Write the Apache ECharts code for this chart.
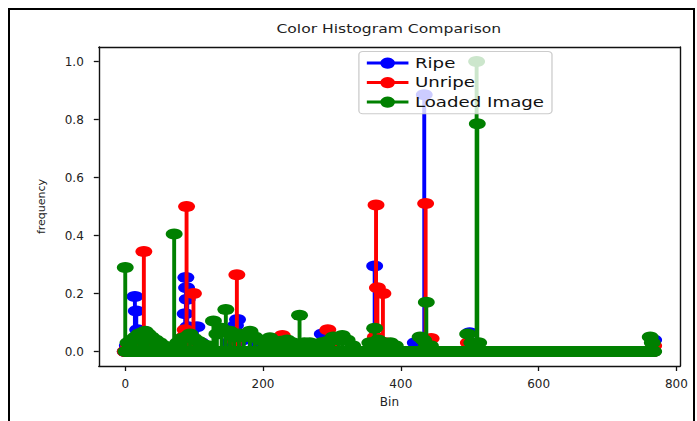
<!DOCTYPE html>
<html><head><meta charset="utf-8">
<script src="https://cdn.jsdelivr.net/npm/echarts@6/dist/echarts.min.js"></script>
<style>
html,body{margin:0;padding:0;background:#fff;overflow:hidden;width:697px;height:421px}
#wrap{width:697px;height:421px;overflow:hidden;position:relative;background:#fff}
#axes{position:absolute;left:0;top:0;width:697px;height:421px}
#chart{position:absolute;left:0;top:0;width:536px;height:421px;transform:scaleX(1.30037);transform-origin:0 0}
#frame{position:absolute;left:8px;top:8px;width:683px;height:430px;border:2.5px solid #000;pointer-events:none}
</style></head><body><div id="wrap"><div id="axes"></div><div id="chart"></div><div id="frame"></div></div>
<script>
// ---- data (bin, frequency); unlisted bins are 0 ----
const binCount = 768;
const seriesNames = ['Ripe', 'Unripe', 'Loaded Image'];
const xTicks = [0, 200, 400, 600, 800];
const yTicks = [0, 0.2, 0.4, 0.6, 0.8, 1.0];

const ripePeaks = [
  [3,0.02],[8,0.03],[14,0.19],[16,0.14],[18,0.075],[22,0.04],[27,0.07],[33,0.03],[40,0.02],
  [86,0.05],[87,0.13],[88,0.255],[89,0.22],[90,0.18],[91,0.085],[93,0.06],[104,0.085],[110,0.03],
  [150,0.03],[157,0.07],[160,0.09],[163,0.11],[170,0.04],[190,0.02],
  [227,0.05],[240,0.02],[286,0.06],[297,0.04],[362,0.295],[366,0.03],[421,0.03],[434,0.885],
  [500,0.065],[767,0.04]
];
const unripePeaks = [
  [5,0.02],[12,0.03],[24,0.05],[27,0.345],[30,0.06],[36,0.03],
  [85,0.05],[87,0.075],[89,0.50],[92,0.06],[95,0.04],[99,0.20],[108,0.03],
  [158,0.04],[162,0.265],[166,0.05],[228,0.055],[294,0.075],[300,0.03],
  [363,0.05],[364,0.505],[366,0.22],[374,0.20],[378,0.03],[436,0.51],[444,0.045],[498,0.03],[767,0.02]
];
const loadedPeaks = [
  [0,0.29],[4,0.03],[9,0.04],[15,0.05],[20,0.06],[25,0.065],[29,0.07],[33,0.06],[38,0.05],[44,0.04],[50,0.03],[56,0.02],
  [71,0.405],[76,0.03],[82,0.045],[88,0.05],[94,0.06],[100,0.045],[106,0.035],[112,0.025],[120,0.02],
  [128,0.105],[133,0.06],[140,0.08],[146,0.145],[152,0.07],[158,0.05],[165,0.06],[172,0.05],[181,0.07],
  [188,0.05],[195,0.04],[203,0.03],[210,0.047],[218,0.03],[226,0.035],[235,0.04],[243,0.03],[253,0.125],
  [260,0.03],[268,0.03],[276,0.02],[285,0.03],[294,0.035],[302,0.05],[310,0.04],[315,0.055],[322,0.04],
  [330,0.02],[355,0.03],[362,0.08],[367,0.04],[375,0.03],[385,0.03],[392,0.02],[428,0.05],[433,0.04],
  [437,0.17],[443,0.02],[497,0.06],[503,0.03],[510,1.0],[511,0.785],[513,0.03],[762,0.05],[765,0.03]
];
const colors = ['#0000ff', '#ff0000', '#008000'];

// ---- build full histograms (every bin gets a marker, as in the stem plot) ----
function fullHist(peaks) {
  const m = new Map(peaks);
  const out = [];
  for (let b = 0; b < binCount; b++) out.push([b, m.has(b) ? m.get(b) : 0]);
  return out;
}
function stemRender(color) {
  return function (params, api) {
    const x = api.value(0), v = api.value(1);
    const p0 = api.coord([x, 0]), p1 = api.coord([x, v]);
    return { type: 'line', shape: { x1: p0[0], y1: p0[1], x2: p1[0], y2: p1[1] },
      style: { stroke: color, lineWidth: 3, lineCap: 'butt' } };
  };
}
const allPeaks = [ripePeaks, unripePeaks, loadedPeaks];
const series = [];
allPeaks.forEach((pk, i) => {
  series.push({
    name: seriesNames[i] + ' stems', type: 'custom', renderItem: stemRender(colors[i]),
    data: pk, encode: { x: 0, y: 1 }, z: 2 + i * 2, silent: true, animation: false
  });
  series.push({
    name: seriesNames[i], type: 'line', data: fullHist(pk), color: colors[i],
    symbol: 'circle', symbolSize: [13, 11], showSymbol: true,
    lineStyle: { width: 3, opacity: 0 }, itemStyle: { color: colors[i] },
    z: 3 + i * 2, silent: true, animation: false, emphasis: { disabled: true }
  });
});

const font = 'DejaVu Sans';
const xRange = { min: -38.35, max: 805.35 };
const yRange = { min: -0.05, max: 1.05 };
const frameLine = () => ({ show: true, onZero: false, lineStyle: { color: '#111', width: 1.4 } });
const tickStyle = () => ({ color: '#111', width: 1.3 });

// layer 1 (unscaled): axes frame, ticks, tick labels, axis names
const axesChart = echarts.init(document.getElementById('axes'), null, { renderer: 'svg' });
axesChart.setOption({
  animation: false,
  grid: { left: 98.8, right: 16.9, top: 47, bottom: 55 },
  xAxis: [{
    type: 'value', position: 'bottom', min: xRange.min, max: xRange.max, name: 'Bin', nameLocation: 'middle', nameGap: 30,
    nameTextStyle: { fontFamily: font, fontSize: 12, color: '#222' },
    axisLine: frameLine(), splitLine: { show: false },
    axisTick: { show: true, length: 5, lineStyle: tickStyle(), customValues: xTicks },
    axisLabel: { customValues: xTicks, margin: 12, fontFamily: font, fontSize: 12, color: '#222' }
  }, {
    type: 'value', position: 'top', min: xRange.min, max: xRange.max,
    axisLine: frameLine(), axisTick: { show: false }, axisLabel: { show: false }, splitLine: { show: false }
  }],
  yAxis: [{
    type: 'value', position: 'left', min: yRange.min, max: yRange.max, name: 'frequency', nameLocation: 'middle', nameGap: 52,
    nameRotate: 90, nameTextStyle: { fontFamily: font, fontSize: 11, color: '#222' },
    axisLine: frameLine(), splitLine: { show: false },
    axisTick: { show: true, length: 5, lineStyle: tickStyle(), customValues: yTicks },
    axisLabel: { customValues: yTicks, margin: 15, fontFamily: font, fontSize: 12, color: '#222',
      formatter: v => v.toFixed(1) }
  }, {
    type: 'value', position: 'right', min: yRange.min, max: yRange.max,
    axisLine: frameLine(), axisTick: { show: false }, axisLabel: { show: false }, splitLine: { show: false }
  }],
  series: []
});

// layer 2 (stretched like the reference): stems, markers, title, legend
const chart = echarts.init(document.getElementById('chart'), null, { renderer: 'svg' });
chart.setOption({
  animation: false,
  backgroundColor: 'transparent',
  title: {
    text: 'Color Histogram Comparison', left: 299, top: 23, textAlign: 'center', padding: 0,
    textStyle: { fontFamily: font, fontSize: 12, fontWeight: 'normal', color: '#222' }
  },
  legend: {
    data: seriesNames, orient: 'vertical', left: 276, top: 51.5,
    padding: [4.6, 6, 4.7, 4.6], itemGap: 5.5, itemWidth: 32, itemHeight: 14,
    backgroundColor: 'rgba(255,255,255,0.8)', borderColor: '#cccccc', borderWidth: 1, borderRadius: 3,
    lineStyle: { opacity: 1, width: 3 },
    textStyle: { fontFamily: font, fontSize: 14, color: '#111', lineHeight: 14 },
    z: 20, selectedMode: false
  },
  grid: { left: 76, right: 13, top: 47, bottom: 55 },
  xAxis: { type: 'value', min: xRange.min, max: xRange.max, show: false },
  yAxis: { type: 'value', min: yRange.min, max: yRange.max, show: false },
  series: series
});
</script></body></html>
